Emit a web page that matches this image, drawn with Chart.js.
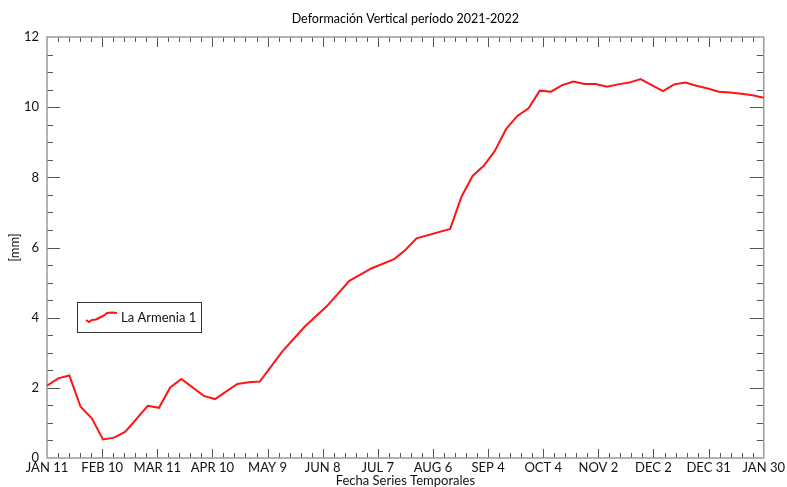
<!DOCTYPE html>
<html><head><meta charset="utf-8">
<script src="https://cdn.jsdelivr.net/npm/chart.js@4/dist/chart.umd.min.js"></script>
<style>html,body{margin:0;padding:0;background:#fff;}#wrap{width:787px;height:487px;}</style>
</head><body><div id="wrap"><canvas id="c" width="787" height="487"></canvas></div>
<script>
// Days counted from JAN 11 2021
const days = [0,6,12,18,24,30,36,42,54,60,66,72,84,90,102,108,114,126,138,150,162,174,186,192,198,216,222,228,234,240,246,252,258,264,270,276,282,288,294,300,306,312,318,324,330,336,342,348,354,360,366,372,378,384];
const values = [2.06,2.27,2.35,1.46,1.13,0.53,0.58,0.75,1.49,1.43,2.01,2.25,1.77,1.68,2.11,2.16,2.18,3.03,3.74,4.33,5.05,5.41,5.67,5.93,6.26,6.53,7.44,8.04,8.33,8.76,9.38,9.75,9.97,10.47,10.44,10.63,10.73,10.66,10.66,10.58,10.65,10.70,10.80,10.63,10.46,10.65,10.70,10.61,10.53,10.44,10.42,10.38,10.34,10.27];
const xTickLabels = ['JAN 11','FEB 10','MAR 11','APR 10','MAY 9','JUN 8','JUL 7','AUG 6','SEP 4','OCT 4','NOV 2','DEC 2','DEC 31','JAN 30'];
const xMax = 384;
const seriesName = 'La Armenia 1';
const chartTitle = 'Deformación Vertical período 2021-2022';
const xTitle = 'Fecha Series Temporales';
const yTitle = '[mm]';
const FONT = 'Lato';

const framePlugin = {
  id: 'frame',
  beforeDatasetsDraw(chart) {
    const {ctx, chartArea: a, scales} = chart;
    ctx.save();
    ctx.strokeStyle = '#555';
    ctx.lineWidth = 1;
    ctx.beginPath();
    for (let v = 0.5; v < 12; v += 0.5) {
      const y = Math.round(scales.y.getPixelForValue(v)) + 0.5;
      const major = Math.abs(v % 2) < 1e-9;
      const lenL = major ? 13 : 6, lenR = major ? 14 : 7;
      ctx.moveTo(a.left, y); ctx.lineTo(a.left + lenL, y);
      ctx.moveTo(a.right, y); ctx.lineTo(a.right - lenR, y);
    }
    const n = (xTickLabels.length - 1) * 5;
    for (let k = 1; k < n; k++) {
      const x = Math.round(scales.x.getPixelForValue(k * xMax / n)) + 0.5;
      const major = k % 5 === 0;
      ctx.moveTo(x, a.bottom); ctx.lineTo(x, a.bottom - (major ? 9 : 5));
      ctx.moveTo(x, a.top); ctx.lineTo(x, a.top + (major ? 10 : 5));
    }
    ctx.stroke();
    ctx.strokeStyle = '#9a9a9a';
    ctx.lineWidth = 1.5;
    ctx.strokeRect(a.left, a.top, a.right - a.left, a.bottom - a.top);
    ctx.restore();
  },
  afterDraw(chart) {
    const {ctx, chartArea: a} = chart;
    ctx.save();
    // title, centred over the plot area
    ctx.fillStyle = '#000';
    ctx.font = '12.5px ' + FONT;
    ctx.textAlign = 'center';
    ctx.textBaseline = 'middle';
    ctx.fillText(chartTitle, (a.left + a.right) / 2, 19);
    // legend
    const bx = a.left + 30, by = a.top + 265, bw = 124, bh = 30;
    ctx.fillStyle = '#fff';
    ctx.fillRect(bx, by, bw, bh);
    ctx.strokeStyle = '#333';
    ctx.lineWidth = 1;
    ctx.strokeRect(bx + 0.5, by + 0.5, bw, bh);
    ctx.strokeStyle = chart.data.datasets[0].borderColor;
    ctx.lineWidth = 2;
    ctx.beginPath();
    const pts = [[9,18],[12,20],[15,18],[19,17.5],[23,15.5],[27,13.5],[30,11],[35,10.5],[40,11]];
    pts.forEach((p, i) => i ? ctx.lineTo(bx + p[0], by + p[1]) : ctx.moveTo(bx + p[0], by + p[1]));
    ctx.stroke();
    ctx.fillStyle = '#111';
    ctx.font = '13px ' + FONT;
    ctx.textAlign = 'left';
    ctx.fillText(chart.data.datasets[0].label, bx + 44, by + 16);
    ctx.restore();
  }
};

new Chart(document.getElementById('c'), {
  type: 'line',
  data: {
    datasets: [{
      label: seriesName,
      data: days.map((d, i) => ({x: d, y: values[i]})),
      borderColor: 'rgb(255,20,20)',
      borderWidth: 2,
      pointRadius: 0,
      tension: 0,
      fill: false
    }]
  },
  options: {
    responsive: false,
    devicePixelRatio: 1,
    animation: false,
    layout: {padding: {left: 0, right: 19, top: 37, bottom: 0}},
    plugins: {
      legend: {display: false},
      tooltip: {enabled: false},
      title: {display: false}
    },
    scales: {
      x: {
        type: 'linear', min: 0, max: xMax,
        afterBuildTicks(scale) {
          scale.ticks = xTickLabels.map((_, i) => ({value: i * xMax / (xTickLabels.length - 1)}));
        },
        ticks: {
          autoSkip: false, maxRotation: 0, padding: 2, color: '#111',
          font: {family: FONT, size: 13},
          callback: (v, i) => xTickLabels[i]
        },
        grid: {display: false, drawTicks: false},
        border: {display: false},
        title: {display: true, text: xTitle, color: '#111', font: {family: FONT, size: 13, lineHeight: 1}, padding: {top: 0, bottom: 0}},
        afterFit(scale) { scale.height = 29; }
      },
      y: {
        min: 0, max: 12,
        ticks: {stepSize: 2, padding: 8, color: '#111', font: {family: FONT, size: 13}},
        grid: {display: false, drawTicks: false},
        border: {display: false},
        title: {display: true, text: yTitle, color: '#111', font: {family: FONT, size: 13, lineHeight: 1.2}, padding: {top: 7, bottom: 0}},
        afterFit(scale) { scale.width = 47; }
      }
    }
  },
  plugins: [framePlugin]
});
</script>
</body></html>
